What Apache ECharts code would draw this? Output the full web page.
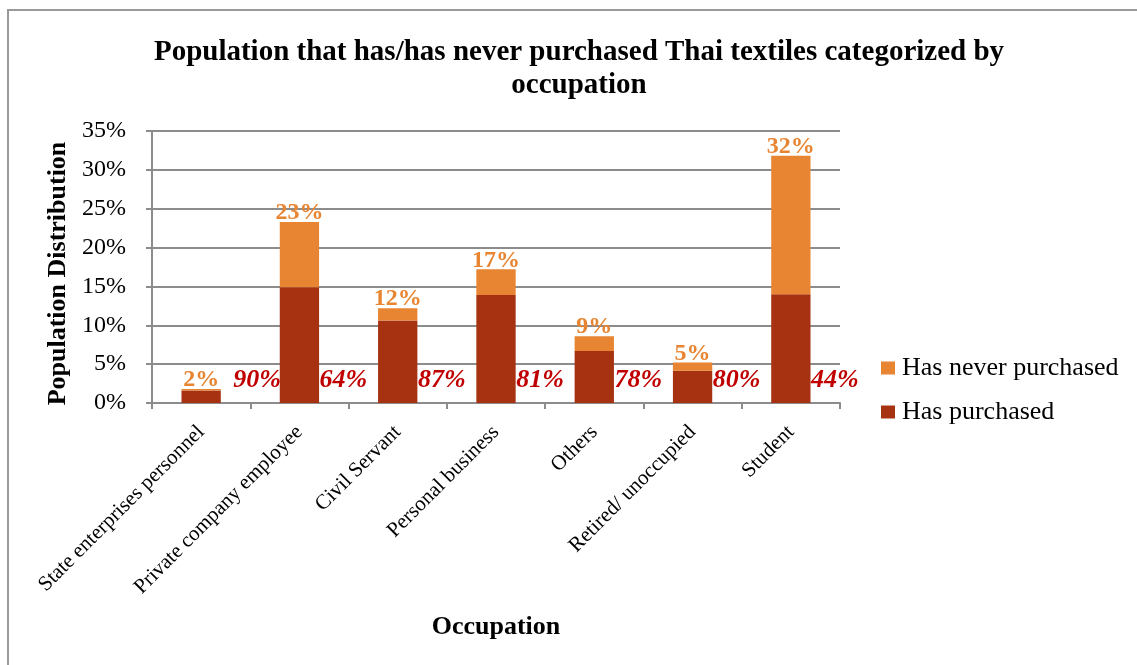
<!DOCTYPE html>
<html>
<head>
<meta charset="utf-8">
<title>Population that has/has never purchased Thai textiles categorized by occupation</title>
<script src="https://cdn.jsdelivr.net/npm/echarts@6/dist/echarts.min.js"></script>
<style>
  html, body { margin: 0; padding: 0; background: #ffffff; overflow: hidden; }
  #chart { width: 1137px; height: 665px; }
</style>
</head>
<body>
<div id="chart"></div>
<script>
// Occupation groups along the x axis
const occupations = [
  'State enterprises personnel',
  'Private company employee',
  'Civil Servant',
  'Personal business',
  'Others',
  'Retired/ unoccupied',
  'Student'
];

// Share of the whole sample (percent) for each occupation
const hasPurchased      = [1.62, 14.9, 10.6, 13.9, 6.7, 4.16, 14.0];
const hasNeverPurchased = [0.18, 8.4, 1.6, 3.3, 1.9, 1.04, 17.8];

// Value axis ticks
const yTicks = [0, 5, 10, 15, 20, 25, 30, 35];

const SERIF = '"Liberation Serif", "Times New Roman", serif';
const C_DARK = '#A63212';
const C_ORANGE = '#E88532';
const C_RED = '#C00000';

const totals = hasPurchased.map((v, i) => v + hasNeverPurchased[i]);
const purchasedShare = hasPurchased.map((v, i) => Math.round(v / totals[i] * 100));

const chart = echarts.init(document.getElementById('chart'), null, { renderer: 'canvas' });

// The share label sits just right of each bar; the first one is nudged
// further right so it clears the "2%" total label.
const purchasedData = hasPurchased.map((v, i) => ({
  value: v,
  label: { offset: [i === 0 ? 56 : 44, -10] }
}));

chart.setOption({
  backgroundColor: '#ffffff',
  animation: false,
  title: {
    text: 'Population that has/has never purchased Thai textiles categorized by\noccupation',
    left: 574,
    top: 31,
    textAlign: 'center',
    textStyle: {
      fontFamily: SERIF,
      fontWeight: 'bold',
      fontSize: 29,
      lineHeight: 33,
      color: '#000000'
    }
  },
  // Frame: left and top edges of the chart box
  graphic: [{
    type: 'polyline',
    shape: { points: [[8, 2000], [8, 10], [2000, 10]] },
    style: { fill: 'none', stroke: '#9a9a9a', lineWidth: 2 },
    silent: true,
    z: -1
  }],
  legend: {
    orient: 'vertical',
    left: 876,
    top: 350,
    itemWidth: 14,
    itemHeight: 13,
    itemGap: 18,
    icon: 'rect',
    data: ['Has never purchased', 'Has purchased'],
    textStyle: { fontFamily: SERIF, fontSize: 26, color: '#000000', padding: [0, 0, 0, 2] }
  },
  grid: { left: 152, right: 297, top: 131, bottom: 262, containLabel: false },
  xAxis: {
    type: 'category',
    data: occupations,
    name: 'Occupation',
    nameLocation: 'middle',
    nameGap: 211,
    nameTextStyle: { fontFamily: SERIF, fontWeight: 'bold', fontSize: 26, color: '#000000' },
    axisLine: { lineStyle: { color: '#8c8c8c', width: 2 } },
    axisTick: { show: true, length: 6, alignWithLabel: false, lineStyle: { color: '#8c8c8c', width: 2 } },
    axisLabel: {
      rotate: 45,
      margin: 26,
      interval: 0,
      fontFamily: SERIF,
      fontSize: 21,
      color: '#000000'
    }
  },
  yAxis: {
    type: 'value',
    min: yTicks[0],
    max: yTicks[yTicks.length - 1],
    interval: yTicks[1] - yTicks[0],
    name: 'Population Distribution',
    nameLocation: 'middle',
    nameRotate: 90,
    nameGap: 81,
    nameTextStyle: { fontFamily: SERIF, fontWeight: 'bold', fontSize: 26, color: '#000000', padding: [0, 13, 0, 0] },
    axisLine: { show: true, lineStyle: { color: '#8c8c8c', width: 2 } },
    axisTick: { show: true, length: 6, lineStyle: { color: '#8c8c8c', width: 2 } },
    axisLabel: {
      margin: 26,
      fontFamily: SERIF,
      fontSize: 24,
      color: '#000000',
      formatter: v => v + '%'
    },
    splitLine: { show: true, lineStyle: { color: '#8c8c8c', width: 2 } }
  },
  series: [
    {
      name: 'Has purchased',
      type: 'bar',
      stack: 'total',
      barWidth: '40%',
      data: purchasedData,
      itemStyle: { color: C_DARK },
      label: {
        show: true,
        position: 'insideBottom',
        distance: 0,
        fontFamily: SERIF,
        fontSize: 26,
        fontWeight: 'bold',
        fontStyle: 'italic',
        color: C_RED,
        formatter: p => purchasedShare[p.dataIndex] + '%'
      }
    },
    {
      name: 'Has never purchased',
      type: 'bar',
      stack: 'total',
      barWidth: '40%',
      data: hasNeverPurchased,
      itemStyle: { color: C_ORANGE },
      label: {
        show: true,
        position: 'top',
        distance: -3,
        fontFamily: SERIF,
        fontSize: 24,
        fontWeight: 'bold',
        color: C_ORANGE,
        formatter: p => Math.round(totals[p.dataIndex]) + '%'
      }
    }
  ]
});
</script>
</body>
</html>
